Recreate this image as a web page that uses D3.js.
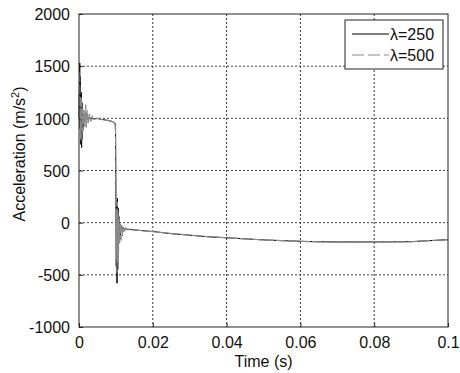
<!DOCTYPE html>
<html>
<head>
<meta charset="utf-8">
<script src="https://cdnjs.cloudflare.com/ajax/libs/d3/7.8.5/d3.min.js"></script>
<style>
  body { margin: 0; background: #fff; }
  text { font-family: "Liberation Sans", Arial, sans-serif; }
</style>
</head>
<body>
<div class="canvas"></div>
<script>
// data
const xTicks = [0, 0.02, 0.04, 0.06, 0.08, 0.1];
const yTicks = [-1000, -500, 0, 500, 1000, 1500, 2000];
const seriesNames = ['\u03bb=250', '\u03bb=500'];

// lambda = 250 (solid black)
const time250 = [0, 0.0002, 0.0003, 0.0004, 0.0005, 0.0006, 0.0007, 0.0008, 0.0009, 0.0010, 0.0011, 0.0013, 0.0015, 0.0018, 0.0022, 0.0030, 0.0040, 0.0050,
  0.0060, 0.0070, 0.0080, 0.0090, 0.0094, 0.0097, 0.0098, 0.0099, 0.0100, 0.0101, 0.0102, 0.0103, 0.0104, 0.0105, 0.0106, 0.0107, 0.0108, 0.0109,
  0.0110, 0.0112, 0.0114, 0.0116, 0.0118, 0.0120, 0.0125, 0.0130, 0.0140, 0.0150, 0.0200, 0.0250, 0.0300, 0.0350, 0.0400, 0.0450,
  0.0500, 0.0550, 0.0600, 0.0650, 0.0700, 0.0750, 0.0800, 0.0850, 0.0900, 0.0950, 0.1000];
const accel250 = [1000, 1530, 900, 1400, 750, 1250, 720, 1150, 800, 1050, 900, 1020, 960, 1010, 990, 1005, 995, 1000,
  990, 985, 978, 970, 962, 955, 950, 870, 250, -420, 180, -580, 236, -450, 140, -250, 60, -180,
  -10, -120, -30, -90, -45, -70, -55, -62, -65, -70, -85, -105, -120, -135, -145, -155,
  -165, -172, -178, -183, -185, -185, -185, -184, -182, -172, -163];

// lambda = 500 (dashed grey)
const time500 = [0, 0.0002, 0.0004, 0.0006, 0.0008, 0.0010, 0.0012, 0.0014, 0.0016, 0.0018, 0.0020, 0.0022, 0.0025, 0.0028, 0.0032, 0.0036, 0.0040, 0.0050,
  0.0060, 0.0070, 0.0080, 0.0090, 0.0094, 0.0097, 0.0099, 0.0100, 0.0101, 0.0102, 0.0103, 0.0104, 0.0105, 0.0106, 0.0107, 0.0108, 0.0110,
  0.0112, 0.0114, 0.0116, 0.0118, 0.0120, 0.0123, 0.0126, 0.0130, 0.0140, 0.0150, 0.0200, 0.0250, 0.0300, 0.0350, 0.0400, 0.0450,
  0.0500, 0.0550, 0.0600, 0.0650, 0.0700, 0.0750, 0.0800, 0.0850, 0.0900, 0.0950, 0.1000];
const accel500 = [1000, 1450, 800, 1200, 780, 1100, 880, 1080, 920, 1130, 910, 1080, 950, 1040, 970, 1020, 990, 1000,
  990, 985, 978, 970, 962, 955, 940, 300, -350, 120, -480, 200, -380, 100, -300, 40, -200,
  0, -170, -20, -130, -40, -95, -50, -70, -65, -70, -85, -105, -120, -135, -145, -155,
  -165, -172, -180, -184, -186, -186, -185, -184, -183, -172, -163];

const width = 460, height = 373;
const margin = { top: 14, right: 12, bottom: 46, left: 79 };
const graphWidth = width - margin.left - margin.right;
const graphHeight = height - margin.top - margin.bottom;

const svg = d3.select('.canvas')
  .append('svg')
  .attr('width', width)
  .attr('height', height);

const graph = svg.append('g')
  .attr('transform', `translate(${margin.left}, ${margin.top})`);

// scales
const x = d3.scaleLinear().domain([0, 0.1]).range([0, graphWidth]);
const y = d3.scaleLinear().domain([-1000, 2000]).range([graphHeight, 0]);

// grid
graph.append('g')
  .selectAll('line')
  .data(xTicks.slice(1, -1))
  .join('line')
  .attr('x1', d => x(d)).attr('x2', d => x(d))
  .attr('y1', 0).attr('y2', graphHeight)
  .attr('stroke', '#333').attr('stroke-dasharray', '2,2');

graph.append('g')
  .selectAll('line')
  .data(yTicks.slice(1, -1))
  .join('line')
  .attr('x1', 0).attr('x2', graphWidth)
  .attr('y1', d => y(d)).attr('y2', d => y(d))
  .attr('stroke', '#444').attr('stroke-dasharray', '2,2');

// axes (ticks inside, like matlab)
const xAxisGroup = graph.append('g').attr('transform', `translate(0, ${graphHeight})`);
const yAxisGroup = graph.append('g');

const xAxis = d3.axisBottom(x).tickValues(xTicks).tickSize(-4).tickPadding(10)
  .tickFormat(d => d === 0 ? '0' : String(+d.toFixed(2)));
const yAxis = d3.axisLeft(y).tickValues(yTicks).tickSize(-4).tickPadding(9)
  .tickFormat(d => String(d));

xAxisGroup.call(xAxis);
yAxisGroup.call(yAxis);

[xAxisGroup, yAxisGroup].forEach(g => {
  g.select('.domain').remove();
  g.selectAll('line').attr('stroke', '#222');
  g.selectAll('text').attr('font-size', 16).attr('fill', '#111')
    .attr('font-family', '"Liberation Sans", Arial, sans-serif');
});
yAxisGroup.selectAll('text').attr('dy', '0.36em');

// lines
const line = d3.line().x(d => x(d[0])).y(d => y(d[1]));

graph.append('path')
  .datum(d3.zip(time250, accel250))
  .attr('d', line)
  .attr('fill', 'none')
  .attr('stroke', '#000')
  .attr('stroke-width', 1);

graph.append('path')
  .datum(d3.zip(time500, accel500))
  .attr('d', line)
  .attr('fill', 'none')
  .attr('stroke', '#8a8a8a')
  .attr('stroke-width', 1.2)
  .attr('stroke-dasharray', '10,2');

// box
graph.append('rect')
  .attr('width', graphWidth).attr('height', graphHeight)
  .attr('fill', 'none').attr('stroke', '#222');

// axis labels
svg.append('text')
  .attr('x', margin.left + graphWidth / 2).attr('y', 367)
  .attr('text-anchor', 'middle').attr('font-size', 16).attr('fill', '#111')
  .text('Time (s)');

const yl = svg.append('text')
  .attr('transform', 'translate(25, 154) rotate(-90)')
  .attr('text-anchor', 'middle').attr('font-size', 16).attr('fill', '#111');
yl.append('tspan').text('Acceleration (m/s');
yl.append('tspan').attr('dy', -6).attr('font-size', 11).text('2');
yl.append('tspan').attr('dy', 6).text(')');

// legend
const legend = svg.append('g').attr('transform', 'translate(345, 20)');
legend.append('rect')
  .attr('width', 98).attr('height', 49)
  .attr('fill', '#fff').attr('stroke', '#222');

const legStyles = [
  { stroke: '#000', dash: null },
  { stroke: '#8a8a8a', dash: '12,4' }
];
seriesNames.forEach((name, i) => {
  const ly = 14 + i * 21;
  legend.append('line')
    .attr('x1', 7).attr('x2', 44).attr('y1', ly).attr('y2', ly)
    .attr('stroke', legStyles[i].stroke)
    .attr('stroke-width', 1.2)
    .attr('stroke-dasharray', legStyles[i].dash);
  legend.append('text')
    .attr('x', 45).attr('y', ly + 6)
    .attr('font-size', 16).attr('fill', '#111')
    .text(name);
});
</script>
</body>
</html>
